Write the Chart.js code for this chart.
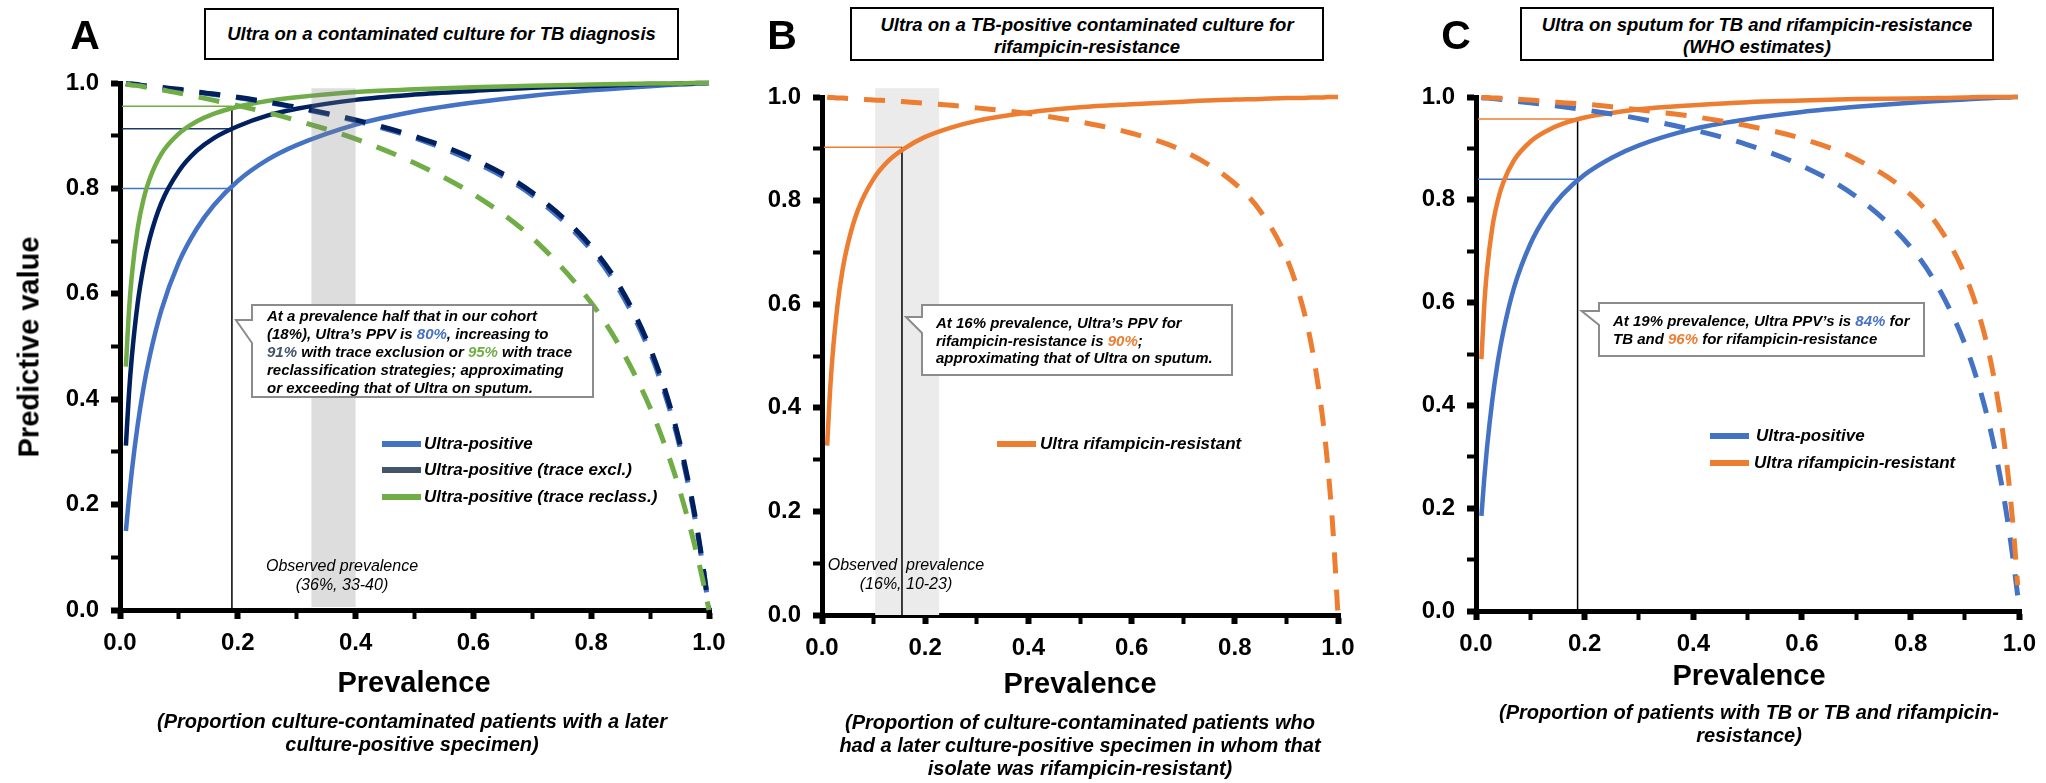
<!DOCTYPE html>
<html>
<head>
<meta charset="utf-8">
<script src="https://cdn.jsdelivr.net/npm/chart.js@4.4.1/dist/chart.umd.min.js"></script>
<style>
  body { margin: 0; background: #fff; width: 2046px; height: 783px; position: relative; overflow: hidden;
         font-family: "Liberation Sans", Arial, sans-serif; color: #000; }
  canvas { position: absolute; left: 0; top: 0; }
  .c { position: absolute; transform: translate(-50%, -50%); text-align: center; white-space: nowrap; }
  .letter { font-weight: bold; font-size: 41px; }
  .tbox { position: absolute; box-sizing: border-box; border: 2.5px solid #000; background: #fff;
          display: flex; align-items: center; justify-content: center; text-align: center;
          font-style: italic; font-weight: bold; font-size: 18.5px; line-height: 22px; }
  .axt { font-weight: bold; font-size: 29px; }
  .sub { font-style: italic; font-weight: bold; font-size: 20px; line-height: 23px; }
  .obs { font-style: italic; font-size: 16px; line-height: 19px; }
  .note { position: absolute; white-space: nowrap; font-style: italic; font-weight: bold; font-size: 15px; line-height: 18px; }
  .sw { position: absolute; height: 6px; }
  .lt { position: absolute; transform: translateY(-50%); white-space: nowrap; font-style: italic; font-weight: bold; font-size: 17px; }
  .b { color: #4472C4; } .n { color: #44546A; } .g { color: #70AD47; } .o { color: #ED7D31; }
</style>
</head>
<body>
<canvas id="chartA" width="2046" height="783"></canvas>
<canvas id="chartB" width="2046" height="783"></canvas>
<canvas id="chartC" width="2046" height="783"></canvas>

<!-- panel letters and title boxes -->
<div class="c letter" style="left:85px;top:35px">A</div>
<div class="c letter" style="left:782px;top:35px">B</div>
<div class="c letter" style="left:1456px;top:35px">C</div>
<div class="tbox" style="left:204px;top:8px;width:475px;height:52px">Ultra on a contaminated culture for TB diagnosis</div>
<div class="tbox" style="left:850px;top:7px;width:474px;height:54px;padding-top:4px">Ultra on a TB-positive contaminated culture for<br>rifampicin-resistance</div>
<div class="tbox" style="left:1520px;top:7px;width:474px;height:54px;padding-top:4px">Ultra on sputum for TB and rifampicin-resistance<br>(WHO estimates)</div>

<!-- axis titles -->
<div class="c axt" style="left:29px;top:347px;transform:translate(-50%,-50%) rotate(-90deg)">Predictive value</div>
<div class="c axt" style="left:414px;top:682px">Prevalence</div>
<div class="c axt" style="left:1080px;top:683px">Prevalence</div>
<div class="c axt" style="left:1749px;top:675px">Prevalence</div>
<div class="c sub" style="left:412px;top:733px">(Proportion culture-contaminated patients with a later<br>culture-positive specimen)</div>
<div class="c sub" style="left:1080px;top:745px">(Proportion of culture-contaminated patients who<br>had a later culture-positive specimen in whom that<br>isolate was rifampicin-resistant)</div>
<div class="c sub" style="left:1749px;top:724px">(Proportion of patients with TB or TB and rifampicin-<br>resistance)</div>

<!-- observed prevalence labels -->
<div class="c obs" style="left:342px;top:575px">Observed prevalence<br>(36%, 33-40)</div>
<div class="c obs" style="left:906px;top:574px">Observed &nbsp;prevalence<br>(16%, 10-23)</div>

<!-- callout texts -->
<div class="note" style="left:267px;top:307px">At a prevalence half that in our cohort<br>(18%), Ultra’s PPV is <span class="b">80%</span>, increasing to<br><span class="n">91%</span> with trace exclusion or <span class="g">95%</span> with trace<br>reclassification strategies; approximating<br>or exceeding that of Ultra on sputum.</div>
<div class="note" style="left:936px;top:314px;line-height:17.5px">At 16% prevalence, Ultra’s PPV for<br>rifampicin-resistance is <span class="o">90%</span>;<br>approximating that of Ultra on sputum.</div>
<div class="note" style="left:1613px;top:312px">At 19% prevalence, Ultra PPV’s is <span class="b">84%</span> for<br>TB and <span class="o">96%</span> for rifampicin-resistance</div>

<!-- legends -->
<div class="sw" style="left:382px;top:441px;width:39px;background:#4472C4"></div>
<div class="lt" style="left:424px;top:444px">Ultra-positive</div>
<div class="sw" style="left:382px;top:467px;width:39px;background:#44546A"></div>
<div class="lt" style="left:424px;top:470px">Ultra-positive (trace excl.)</div>
<div class="sw" style="left:382px;top:494px;width:39px;background:#70AD47"></div>
<div class="lt" style="left:424px;top:497px">Ultra-positive (trace reclass.)</div>
<div class="sw" style="left:997px;top:441px;width:39px;background:#ED7D31"></div>
<div class="lt" style="left:1040px;top:444px">Ultra rifampicin-resistant</div>
<div class="sw" style="left:1710px;top:433px;width:39px;background:#4472C4"></div>
<div class="lt" style="left:1756px;top:436px">Ultra-positive</div>
<div class="sw" style="left:1710px;top:460px;width:39px;background:#ED7D31"></div>
<div class="lt" style="left:1754px;top:463px">Ultra rifampicin-resistant</div>

<script>
const FONT = '"Liberation Sans", Arial, sans-serif'

// prevalence values the curves were read at
const prevalence = [0.01, 0.015, 0.02, 0.03, 0.04, 0.05, 0.07, 0.1, 0.13, 0.16, 0.2, 0.25, 0.3,
                    0.4, 0.5, 0.6, 0.7, 0.8, 0.85, 0.9, 0.93, 0.95, 0.97, 0.98, 0.99, 1.0]
const prevalenceC = [0.01, 0.015, 0.02, 0.03, 0.04, 0.05, 0.07, 0.1, 0.13, 0.16, 0.2, 0.25, 0.3,
                     0.4, 0.5, 0.6, 0.7, 0.8, 0.85, 0.9, 0.93, 0.95, 0.97, 0.98, 0.99, 0.997]

// Panel A - contaminated culture, TB diagnosis
const ppvUltraA = [0.150, 0.210, 0.263, 0.351, 0.422, 0.479, 0.568, 0.660, 0.723, 0.769, 0.814, 0.854, 0.882,
                   0.921, 0.946, 0.963, 0.976, 0.986, 0.990, 0.994, 0.996, 0.997, 0.998, 0.999, 0.999, 1.0]
const ppvExclA = [0.312, 0.407, 0.479, 0.582, 0.652, 0.703, 0.772, 0.833, 0.871, 0.896, 0.918, 0.938, 0.951,
                  0.968, 0.978, 0.985, 0.991, 0.994, 0.996, 0.998, 0.998, 0.999, 0.999, 1.0, 1.0, 1.0]
const ppvReclA = [0.462, 0.564, 0.634, 0.724, 0.780, 0.817, 0.865, 0.904, 0.927, 0.942, 0.955, 0.966, 0.973,
                  0.983, 0.988, 0.992, 0.995, 0.997, 0.998, 0.999, 0.999, 0.999, 1.0, 1.0, 1.0, 1.0]
const npvUltraA = [0.999, 0.998, 0.998, 0.996, 0.995, 0.994, 0.991, 0.987, 0.983, 0.978, 0.972, 0.963, 0.953,
                   0.928, 0.896, 0.851, 0.787, 0.683, 0.603, 0.489, 0.393, 0.312, 0.210, 0.149, 0.080, 0.0]
const npvExclA = [0.999, 0.998, 0.998, 0.997, 0.995, 0.994, 0.992, 0.988, 0.983, 0.979, 0.973, 0.964, 0.954,
                  0.930, 0.899, 0.856, 0.792, 0.690, 0.611, 0.497, 0.401, 0.319, 0.216, 0.154, 0.082, 0.0]
const npvReclA = [0.998, 0.997, 0.996, 0.995, 0.993, 0.991, 0.987, 0.981, 0.974, 0.967, 0.957, 0.944, 0.929,
                  0.894, 0.848, 0.789, 0.706, 0.583, 0.497, 0.384, 0.297, 0.228, 0.148, 0.103, 0.054, 0.0]

// Panel B - TB-positive contaminated culture, rifampicin-resistance
const ppvRifB = [0.327, 0.422, 0.495, 0.598, 0.667, 0.716, 0.783, 0.842, 0.878, 0.901, 0.923, 0.941, 0.954,
                 0.970, 0.980, 0.986, 0.991, 0.995, 0.996, 0.998, 0.998, 0.999, 0.999, 1.0, 1.0, 1.0]
const npvRifB = [1.0, 0.999, 0.999, 0.998, 0.998, 0.997, 0.996, 0.994, 0.993, 0.991, 0.988, 0.984, 0.979,
                 0.968, 0.952, 0.930, 0.896, 0.833, 0.779, 0.690, 0.601, 0.513, 0.382, 0.290, 0.168, 0.0]

// Panel C - sputum, WHO estimates
const ppvUltraC = [0.185, 0.255, 0.315, 0.410, 0.484, 0.542, 0.629, 0.714, 0.771, 0.811, 0.849, 0.882, 0.906,
                   0.938, 0.957, 0.971, 0.981, 0.989, 0.992, 0.995, 0.997, 0.998, 0.999, 0.999, 1.0, 1.0]
const ppvRifC = [0.490, 0.591, 0.660, 0.746, 0.798, 0.833, 0.877, 0.913, 0.934, 0.948, 0.960, 0.969, 0.976,
                 0.984, 0.990, 0.993, 0.996, 0.997, 0.998, 0.999, 1.0, 1.0, 1.0, 1.0, 1.0, 1.0]
const npvUltraC = [0.999, 0.998, 0.998, 0.997, 0.996, 0.995, 0.992, 0.989, 0.985, 0.981, 0.975, 0.967, 0.958,
                   0.936, 0.907, 0.866, 0.806, 0.708, 0.631, 0.519, 0.422, 0.338, 0.231, 0.165, 0.089, 0.030]
const npvRifC = [0.999, 0.999, 0.999, 0.998, 0.998, 0.997, 0.996, 0.994, 0.991, 0.989, 0.986, 0.981, 0.975,
                 0.962, 0.944, 0.919, 0.879, 0.810, 0.750, 0.654, 0.561, 0.472, 0.345, 0.258, 0.147, 0.050]

// reference prevalence, PPV read-offs and observed-prevalence bands
const refPrevA = 0.19, refPpvA = [0.80, 0.913, 0.956]
const refPrevB = 0.155, refPpvB = [0.903]
const refPrevC = 0.187, refPpvC = [0.840, 0.957]
const bandA = [0.325, 0.40], bandB = [0.103, 0.227]

const BLUE = '#4472C4', NAVY = '#002060', GREEN = '#70AD47', ORANGE = '#ED7D31'

function line(xs, ys, color, dashed, order) {
    return {
        data: xs.map((x, i) => ({ x: x, y: ys[i] })),
        borderColor: color,
        borderWidth: dashed ? 5 : 4.5,
        borderDash: dashed ? [21, 16] : [],
        borderCapStyle: 'butt',
        pointRadius: 0,
        cubicInterpolationMode: 'monotone',
        fill: false,
        clip: 10,
        order: order
    }
}

// major ticks (labelled) a bit heavier than the minor ones
const isMinor = ctx => ctx.tick && Math.round(ctx.tick.value * 10) % 2 === 1

function axis(extra) {
    return Object.assign({
        type: 'linear', min: 0, max: 1,
        border: { color: '#000', width: 5 },
        grid: {
            display: true, drawOnChartArea: false, drawTicks: true, tickLength: 9,
            tickWidth: ctx => isMinor(ctx) ? 4 : 6, tickColor: '#000', color: '#000', lineWidth: 5
        },
        ticks: {
            stepSize: 0.1, autoSkip: false, maxRotation: 0, color: '#000',
            font: { family: FONT, size: 24, weight: 'bold' },
            callback: v => Math.round(v * 10) % 2 ? '' : v.toFixed(1)
        }
    }, extra)
}

// callout box with a wedge pointing left to the reference line
function callout(ctx, box, tip, joinY) {
    ctx.save()
    ctx.beginPath()
    ctx.moveTo(box[0], box[1])
    ctx.lineTo(box[2], box[1])
    ctx.lineTo(box[2], box[3])
    ctx.lineTo(box[0], box[3])
    ctx.lineTo(box[0], joinY[1])
    ctx.lineTo(tip[0], tip[1])
    ctx.lineTo(box[0], joinY[0])
    ctx.closePath()
    ctx.fillStyle = '#fff'
    ctx.fill()
    ctx.strokeStyle = '#8c8c8c'
    ctx.lineWidth = 2
    ctx.stroke()
    ctx.restore()
}

const extras = {
    id: 'extras',
    beforeDatasetsDraw(chart, args, o) {
        const ctx = chart.ctx, xs = chart.scales.x, ys = chart.scales.y
        if (o.band && o.bandUnder) {
            ctx.fillStyle = o.bandColor
            const x0 = xs.getPixelForValue(o.band[0]), x1 = xs.getPixelForValue(o.band[1])
            const yt = ys.getPixelForValue(o.bandTop)
            ctx.fillRect(x0, yt, x1 - x0, ys.getPixelForValue(0) - yt)
        }
        // read-off lines
        ctx.save()
        ctx.lineWidth = 1.5
        const xr = xs.getPixelForValue(o.refPrev)
        o.refPpv.forEach((v, i) => {
            const y = ys.getPixelForValue(v)
            ctx.strokeStyle = o.refColors[i]
            ctx.beginPath()
            ctx.moveTo(xs.getPixelForValue(0) + 2, y)
            ctx.lineTo(xr, y)
            ctx.stroke()
        })
        ctx.strokeStyle = '#000'
        ctx.beginPath()
        ctx.moveTo(xr, ys.getPixelForValue(0))
        ctx.lineTo(xr, ys.getPixelForValue(Math.max(...o.refPpv)))
        ctx.stroke()
        ctx.restore()
    },
    afterDatasetsDraw(chart, args, o) {
        const ctx = chart.ctx, xs = chart.scales.x, ys = chart.scales.y
        if (o.band && !o.bandUnder) {
            ctx.fillStyle = o.bandColor
            const x0 = xs.getPixelForValue(o.band[0]), x1 = xs.getPixelForValue(o.band[1])
            const yt = ys.getPixelForValue(o.bandTop)
            ctx.fillRect(x0, yt, x1 - x0, ys.getPixelForValue(0) - yt - 3)
        }
        const xr = xs.getPixelForValue(o.refPrev)
        callout(ctx, o.box, [xr + 4, o.joinY[0]], o.joinY)
    }
}

function panel(id, datasets, pad, opts) {
    new Chart(document.getElementById(id), {
        type: 'line',
        data: { datasets: datasets },
        options: {
            animation: false, responsive: false, devicePixelRatio: 1, events: [],
            layout: { padding: pad },
            plugins: { legend: { display: false }, tooltip: { enabled: false }, extras: opts },
            scales: {
                x: axis({ afterFit: s => { s.height = 70 }, ticks: Object.assign({}, axis().ticks, { padding: 10 }) }),
                y: axis({ afterFit: s => { s.width = 70 }, ticks: Object.assign({}, axis().ticks, { padding: 12 }) })
            }
        },
        plugins: [extras]
    })
}

panel('chartA', [
    line(prevalence, ppvUltraA, BLUE, false, 6),
    line(prevalence, ppvExclA, NAVY, false, 5),
    line(prevalence, ppvReclA, GREEN, false, 4),
    line(prevalence, npvUltraA, BLUE, true, 3),
    line(prevalence, npvExclA, NAVY, true, 2),
    line(prevalence, npvReclA, GREEN, true, 1)
], { left: 50, top: 83, right: 1337, bottom: 103 }, {
    refPrev: refPrevA, refPpv: refPpvA, refColors: [BLUE, '#203864', GREEN],
    band: bandA, bandTop: 0.99, bandUnder: false, bandColor: 'rgba(128,128,128,0.27)',
    box: [252, 305, 593, 397], joinY: [320, 343]
})

panel('chartB', [
    line(prevalence, ppvRifB, ORANGE, false, 2),
    line(prevalence, npvRifB, ORANGE, true, 1)
], { left: 752, top: 97, right: 708, bottom: 98 }, {
    refPrev: refPrevB, refPpv: refPpvB, refColors: [ORANGE],
    band: bandB, bandTop: 1.017, bandUnder: true, bandColor: '#ebebeb',
    box: [922, 305, 1232, 375], joinY: [317, 333]
})

panel('chartC', [
    line(prevalenceC, ppvUltraC, BLUE, false, 4),
    line(prevalenceC, ppvRifC, ORANGE, false, 3),
    line(prevalenceC, npvUltraC, BLUE, true, 2),
    line(prevalenceC, npvRifC, ORANGE, true, 1)
], { left: 1406, top: 97, right: 24, bottom: 102 }, {
    refPrev: refPrevC, refPpv: refPpvC, refColors: [BLUE, ORANGE],
    box: [1599, 303, 1924, 356], joinY: [311, 325]
})
</script>
</body>
</html>
